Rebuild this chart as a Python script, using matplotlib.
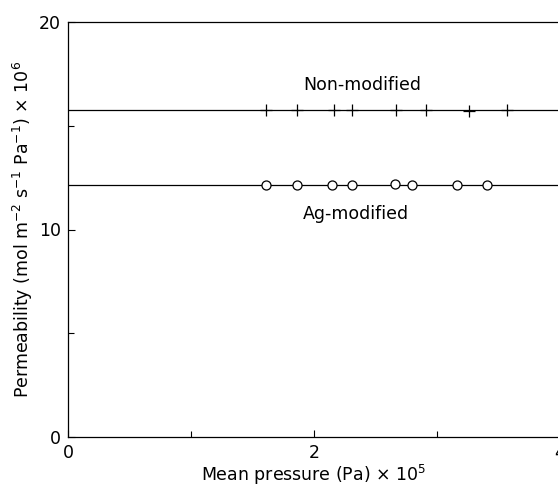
import matplotlib
matplotlib.use('Agg')
import matplotlib.pyplot as plt

plt.rcParams['font.family'] = ['DejaVu Sans']
plt.rcParams['mathtext.fontset'] = 'dejavusans'

# Data
pressure_non = [1.61, 1.86, 2.16, 2.31, 2.67, 2.91, 3.26, 3.57]
perm_non = [15.76, 15.76, 15.76, 15.76, 15.76, 15.74, 15.70, 15.74]
pressure_ag = [1.61, 1.86, 2.15, 2.31, 2.66, 2.80, 3.16, 3.41]
perm_ag = [12.14, 12.14, 12.16, 12.14, 12.18, 12.16, 12.14, 12.14]
mean_non = 15.75
mean_ag = 12.16

xticks = [0, 2, 4]
yticks = [0, 10, 20]

fig = plt.figure(figsize=(5.58, 4.93), dpi=100)
ax = fig.add_axes([68 / 558, 1 - 437 / 493, 492 / 558, 415 / 493])

ax.axhline(mean_non, color='black', lw=0.9)
ax.axhline(mean_ag, color='black', lw=0.9)
ax.plot(pressure_non, perm_non, ls='none', marker='+', ms=8, mew=0.9, color='black')
ax.plot(pressure_ag, perm_ag, ls='none', marker='o', ms=6.5, mew=0.9,
        mfc='white', mec='black')

ax.text(2.39, 16.95, 'Non-modified', ha='center', va='center', fontsize=12.5)
ax.text(2.34, 10.75, 'Ag-modified', ha='center', va='center', fontsize=12.5)

ax.set_xlim(0, 4)
ax.set_ylim(0, 20)
ax.set_xticks(xticks)
ax.set_yticks(yticks)
ax.set_xticks([1, 3], minor=True)
ax.set_yticks([5, 15], minor=True)
ax.tick_params(which='major', direction='in', length=5, width=0.8, labelsize=12.5, pad=5)
ax.tick_params(which='minor', direction='in', length=4, width=0.8)
for s in ax.spines.values():
    s.set_linewidth(0.9)

ax.set_xlabel(r'Mean pressure (Pa) $\times$ 10$^5$', fontsize=12.5, labelpad=1)
ax.set_ylabel(r'Permeability (mol m$^{-2}$ s$^{-1}$ Pa$^{-1}$) $\times$ 10$^6$',
              fontsize=12.5, labelpad=3)

fig.savefig('out.png', dpi=100)
